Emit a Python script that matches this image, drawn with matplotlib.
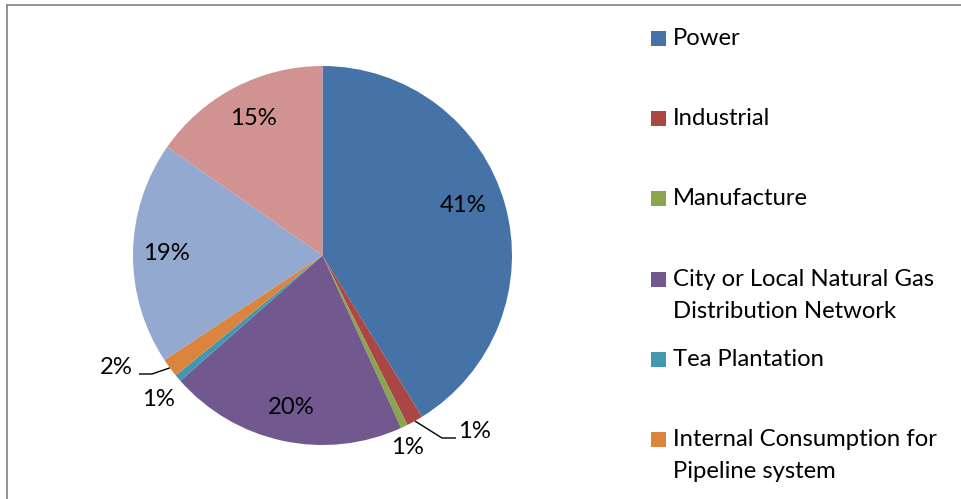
import numpy as np
import matplotlib
matplotlib.use("Agg")
import matplotlib.pyplot as plt
from matplotlib.patches import Rectangle

# ---------------- data ----------------
categories = ["Power", "Industrial", "Manufacture",
              "City or Local Natural Gas\nDistribution Network",
              "Tea Plantation", "Internal Consumption for\nPipeline system",
              "Other A", "Other B"]
shares = [41.2, 1.4, 0.6, 20.3, 0.6, 1.6, 19.0, 15.3]
colors = ["#4572A7", "#AA4643", "#89A54E", "#71588F",
          "#4198AF", "#DB843D", "#93A9CF", "#D19392"]
legend_count = 6  # entries visible in the legend

# ---------------- layout (pixel units, origin top-left) ----------------
W, H = 962, 499
CX, CY, R = 322.5, 255.5, 189.5
label_pos = [(463, 205), (473, 432), (407, 448), (291, 408),
             (158, 400), (118, 367), (166, 254), (253, 118)]
leaders = {1: [(442, 438), (456, 438)], 5: [(152, 374), (139, 374)]}
FONT = "Lato"
FS = 17.2

def fy(y):
    return H - y

fig = plt.figure(figsize=(W / 100, H / 100), dpi=100)
ax = fig.add_axes([0, 0, 1, 1])

wedges, _ = ax.pie(shares, colors=colors, startangle=90, counterclock=False,
                   center=(CX, fy(CY)), radius=R, frame=True,
                   wedgeprops=dict(linewidth=0))
ax.set_xlim(0, W)
ax.set_ylim(0, H)
ax.set_aspect("equal")
ax.axis("off")

total = sum(shares)
for i, (v, w) in enumerate(zip(shares, wedges)):
    pct = 100 * v / total
    txt = f"{int(pct + 0.5)}%"
    x, y = label_pos[i]
    ha = "left" if i == 1 else "center"
    if i == 5:
        ha = "right"
    xx = x - 15 if i == 1 else (x + 15 if i == 5 else x)
    ax.text(xx, fy(y), txt, ha=ha, va="center", fontsize=FS,
            family=FONT, color="black")
    if i in leaders:
        ang = np.deg2rad((w.theta1 + w.theta2) / 2)
        sx = CX + R * np.cos(ang)
        sy = fy(CY) + R * np.sin(ang)
        pts = [(sx, sy)] + [(px, fy(py)) for px, py in leaders[i]]
        ax.plot([p[0] for p in pts], [p[1] for p in pts], color="black",
                lw=1.0, solid_capstyle="butt")

# ---------------- legend (manual, Excel style) ----------------
LX, LTX, LY0, LDY, LINE = 651, 673, 38.5, 80.2, 32
for i in range(legend_count):
    y = LY0 + LDY * i
    ax.add_patch(Rectangle((LX, fy(y) - 7.5), 15, 15, facecolor=colors[i],
                           edgecolor="none"))
    for j, line in enumerate(categories[i].split("\n")):
        ax.text(LTX, fy(y + j * LINE), line, ha="left", va="center",
                fontsize=FS, family=FONT, color="black")

# ---------------- chart frame ----------------
ax.plot([7, W], [fy(5), fy(5)], color="#8a8a8a", lw=1.3, clip_on=False)
ax.plot([7, 7], [fy(5), 0], color="#8a8a8a", lw=1.3, clip_on=False)

fig.savefig("out.png", dpi=100)
